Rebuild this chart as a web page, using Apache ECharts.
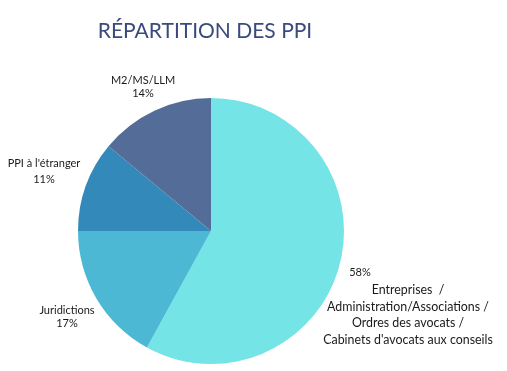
<!DOCTYPE html>
<html><head><meta charset="utf-8">
<script src="https://cdn.jsdelivr.net/npm/echarts@6/dist/echarts.min.js"></script>
<style>html,body{margin:0;padding:0;background:#fff}#c{width:507px;height:371px}</style>
</head><body><div id="c"></div>
<script>
const categories = ["Entreprises  /\nAdministration/Associations /\nOrdres des avocats /\nCabinets d'avocats aux conseils", "Juridictions", "PPI à l'étranger", "M2/MS/LLM"];
const values = [58, 17, 11, 14];
const colors = ["#74E4E6", "#4DB8D4", "#3489BB", "#536D98"];
const titleText = "RÉPARTITION DES PPI";

const labelPos = [
  {x: 408, y: 306},
  {x: 67, y: 317},
  {x: 44, y: 171},
  {x: 143, y: 87}
];
const lh = [16.5, 12.5, 16, 13.5];

const chart = echarts.init(document.getElementById('c'));
chart.setOption({
  animation: false,
  title: {
    text: titleText, left: 200, top: 16, textAlign: 'center',
    textStyle: {fontFamily: 'Lato', fontWeight: 'normal', fontSize: 21, color: '#3A4A7D'}
  },
  series: [{
    type: 'pie',
    center: [211, 231],
    radius: 133,
    startAngle: 90,
    clockwise: true,
    data: categories.map((n, i) => ({
      name: n, value: values[i],
      itemStyle: {color: colors[i]},
      label: i === 0 ? {
        formatter: '{p|' + values[i] + '%}\n{n|' + n.split('\n').join('}\n{n|') + '}',
        rich: {
          p: {align: 'left', padding: [0, 0, 1.5, 26], fontSize: 11, fontFamily: 'Lato', color: '#1a1a1a', lineHeight: 18},
          n: {align: 'center', fontSize: 12.4, fontFamily: 'Lato', color: '#1a1a1a', lineHeight: 16.5}
        }
      } : {
        formatter: n + '\n' + values[i] + '%',
        lineHeight: lh[i]
      }
    })),
    label: {
      show: true, position: 'inside', overflow: 'none',
      fontFamily: 'Lato', fontSize: 11, color: '#1a1a1a', align: 'center'
    },
    labelLine: {show: false},
    labelLayout: function (p) {
      const pos = labelPos[p.dataIndex];
      return {x: pos.x, y: pos.y, align: 'center', verticalAlign: 'middle', hideOverlap: false, moveOverlap: false};
    },
    emphasis: {disabled: true}
  }]
});
</script>
</body></html>
